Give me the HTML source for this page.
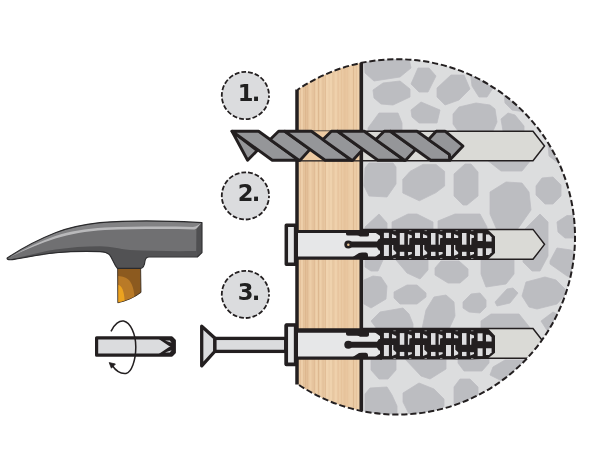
<!DOCTYPE html>
<html lang="en"><head><meta charset="utf-8"><title>Wall plug installation</title>
<style>html,body{margin:0;padding:0;background:#fff}body{width:600px;height:450px;overflow:hidden}svg{display:block}text{font-family:"DejaVu Sans","Liberation Sans",sans-serif;font-weight:bold}</style>
</head><body>
<svg width="600" height="450" viewBox="0 0 600 450">
<defs>
<clipPath id="circ"><circle cx="397.3" cy="236.9" r="177.7"/></clipPath>
<pattern id="wood" x="296" y="0" width="66" height="450" patternUnits="userSpaceOnUse">
<rect width="66" height="450" fill="#ebcba5"/>
<rect x="0.6" width="1.1" height="450" fill="#e3bf98"/>
<rect x="3.9" width="0.7" height="450" fill="#e0bb94"/>
<rect x="5.4" width="1.1" height="450" fill="#f0d2ad"/>
<rect x="7.3" width="0.9" height="450" fill="#e0bb94"/>
<rect x="9.0" width="1.4" height="450" fill="#ddb890"/>
<rect x="11.2" width="0.9" height="450" fill="#e0bb94"/>
<rect x="14.3" width="0.7" height="450" fill="#efd0aa"/>
<rect x="15.8" width="0.9" height="450" fill="#e6c29b"/>
<rect x="17.5" width="1.4" height="450" fill="#e0bb94"/>
<rect x="20.1" width="0.7" height="450" fill="#f0d2ad"/>
<rect x="22.0" width="1.1" height="450" fill="#ddb890"/>
<rect x="24.3" width="0.7" height="450" fill="#f0d2ad"/>
<rect x="26.6" width="0.9" height="450" fill="#e0bb94"/>
<rect x="28.7" width="1.1" height="450" fill="#e0bb94"/>
<rect x="30.6" width="0.7" height="450" fill="#f0d2ad"/>
<rect x="32.5" width="1.4" height="450" fill="#e6c29b"/>
<rect x="36.1" width="1.1" height="450" fill="#ddb890"/>
<rect x="39.4" width="1.1" height="450" fill="#f2d5b1"/>
<rect x="41.7" width="0.9" height="450" fill="#e6c29b"/>
<rect x="43.8" width="0.7" height="450" fill="#f0d2ad"/>
<rect x="46.1" width="1.4" height="450" fill="#f2d5b1"/>
<rect x="49.7" width="1.1" height="450" fill="#f0d2ad"/>
<rect x="51.6" width="0.7" height="450" fill="#f0d2ad"/>
<rect x="54.5" width="0.9" height="450" fill="#efd0aa"/>
<rect x="57.0" width="0.9" height="450" fill="#ddb890"/>
<rect x="60.1" width="0.7" height="450" fill="#e6c29b"/>
<rect x="61.6" width="1.1" height="450" fill="#f2d5b1"/>
<rect x="64.3" width="1.4" height="450" fill="#f0d2ad"/>
<rect x="44.5" width="8" height="450" fill="#dcb48a" opacity="0.35"/>
<rect x="30" width="7" height="450" fill="#f6dcba" opacity="0.4"/>
<rect x="8" width="5" height="450" fill="#dcb48a" opacity="0.25"/>
</pattern>
<linearGradient id="hm" x1="0" y1="0" x2="0" y2="1"><stop offset="0" stop-color="#8a8a8c"/><stop offset="0.25" stop-color="#757577"/><stop offset="1" stop-color="#6a6a6c"/></linearGradient>
</defs>
<g clip-path="url(#circ)">
<rect x="361" y="50" width="230" height="380" fill="#dcddde"/>
<g fill="#bcbdc1" stroke="#bcbdc1" stroke-width="0.8" stroke-linejoin="round">
<polygon points="364,58 409,58 411,68 400,77 374,81 365,73" />
<polygon points="373,90 383,83 400,81 410,89 410,97 393,105 381,104 374,98" />
<polygon points="418,68 429,68 436,76 428,92 419,92 411,84" />
<polygon points="437,88 451,75 464,75 470,89 459,100 445,105 437,97" />
<polygon points="411,110 421,102 440,110 437,123 419,123 412,117" />
<polygon points="368,128 379,113 398,113 402,123 402,131 368,131" />
<polygon points="453,114 459,107 476,103 490,105 495,109 497,122 493,131 458,131 453,124" />
<polygon points="470,70 493,88 487,97 479,97 472,86" />
<polygon points="501,119 508,113 515,115 524,126 524,131 503,131" />
<polygon points="504,92 525,112 512,110 505,103" />
<polygon points="365,168 369,163 393,163 396,167 396,184 387,197 369,196 364,186" />
<polygon points="402.8,179.4 410,171.4 423,164.4 436,164.4 444.6,171.4 444.6,186 436,192.6 419.3,200.8 402.8,193" />
<polygon points="454,174 465,164 471,164 478,172 478,196 467,205 463,205 454,196" />
<polygon points="365,227 379,214 387,223 387,230 365,230" />
<polygon points="392,222 408,214 417,214 433,222 433,230 392,230" />
<polygon points="438,221 455,214 480,214 487,227 487,230 438,230" />
<polygon points="487,160 531,160 522,171 501,171" />
<polygon points="490,192 506,182 522,183 529,192 531,210 517,230 497,230 490,214" />
<polygon points="536,186 542,178 553,177 561,185 561,196 553,204 545,204 536,195" />
<polygon points="525,229 540,214 548,222 548,256 540,271 532,271 523,262" />
<polygon points="557,222 567,215.5 580,216 580,238 565,238 558,232" />
<polygon points="550,261 557,248 571,250 580,256 580,280 567,276 550,264" />
<polygon points="548,145 553,150 562,166 549,156" />
<polygon points="365,260 383,260 378,271 371,271 365,267" />
<polygon points="396,260 428,260 428,270 420,279 407,273" />
<polygon points="435,268 441,261 459,261 468,269 468,276 460,283 448,283 435,275" />
<polygon points="364,280 373,276 381,277 387,286 386,299 371,308 364,304" />
<polygon points="394,292 407,285 417,285 426,293 426,297 417,304 400,304 394,298" />
<polygon points="422,329 426,310 434,297 446,295 454,302 455,316 449,329" />
<polygon points="371,321 380,312 403,308 409,314 413,324 413,329 377,329" />
<polygon points="481,260 514,260 514,274 506,284 486,287 481,274" />
<polygon points="522,296 526,282 545,277 556,280 565,289 565,295 557,304 537,309 529,307" />
<polygon points="495,302 507,289 513,288 518,293 510,303 497,306" />
<polygon points="463,302 471,294 480,293 486,300 486,307 480,313 469,312 463,308" />
<polygon points="481,321 491,314 519,314 531,329 481,329" />
<polygon points="541,321 553,312 570,320 550,335" />
<polygon points="371,359 396,359 396,370 388,379 379,379 371,370" />
<polygon points="405,359 446,359 446,369 430,379 421,376" />
<polygon points="365,394 370,388 387,387 392,395 397,406 397,416 365,416" />
<polygon points="403,393 419,383 434,389 444,399 444,406 435,416 410,416 403,402" />
<polygon points="454,387 460,379 470,379 478,387 478,410 454,410" />
<polygon points="458,359 489,359 489,363 482,371 464,371 458,363" />
<polygon points="490,375 493,367 505,360 540,360 520,390" />
</g>
<rect x="296.7" y="50" width="64.5" height="380" fill="url(#wood)"/>
<path d="M298,131.2 H533 L544.5,145.95 L533,160.7 H298" fill="#dadad6" stroke="#231f20" stroke-width="1.5" stroke-linejoin="miter"/>
<path d="M361,229.4 H533 L544.5,244.35000000000002 L533,259.3 H361" fill="#dadad6" stroke="#231f20" stroke-width="1.5" stroke-linejoin="miter"/>
<path d="M361,328.5 H533 L544.5,343.35 L533,358.2 H361" fill="#dadad6" stroke="#231f20" stroke-width="1.5" stroke-linejoin="miter"/>
</g>
<rect x="298" y="131.2" width="63" height="29" fill="#eccaa2"/>
<line x1="297" y1="89.4" x2="297" y2="384.4" stroke="#231f20" stroke-width="3.5"/>
<line x1="361.3" y1="62.8" x2="361.3" y2="411" stroke="#231f20" stroke-width="3.6"/>
<path d="M297.38,89.96 A177.7,177.7 0 1 1 297.38,383.84" fill="none" stroke="#231f20" stroke-width="2.0" stroke-dasharray="6.2 2.8" stroke-dashoffset="3"/>
<g id="plug2">
<rect x="286.3" y="225.3" width="9.3" height="39" fill="#e6e7e8" stroke="#231f20" stroke-width="3.5" stroke-linejoin="round"/>
<rect x="298" y="231.3" width="84" height="26.8" fill="#e6e7e8"/>
<path d="M380,229.4 H487.6 L495,236.4 V253 L487.6,259.8 H380 Z" fill="#231f20"/>
<rect x="393.4" y="230.3" width="2.4" height="0.8" fill="#9a9a9c"/>
<rect x="393.4" y="258.1" width="2.4" height="0.8" fill="#9a9a9c"/>
<rect x="409.0" y="230.3" width="2.4" height="0.8" fill="#9a9a9c"/>
<rect x="409.0" y="258.1" width="2.4" height="0.8" fill="#9a9a9c"/>
<rect x="424.6" y="230.3" width="2.4" height="0.8" fill="#9a9a9c"/>
<rect x="424.6" y="258.1" width="2.4" height="0.8" fill="#9a9a9c"/>
<rect x="440.0" y="230.3" width="2.4" height="0.8" fill="#9a9a9c"/>
<rect x="440.0" y="258.1" width="2.4" height="0.8" fill="#9a9a9c"/>
<rect x="455.6" y="230.3" width="2.4" height="0.8" fill="#9a9a9c"/>
<rect x="455.6" y="258.1" width="2.4" height="0.8" fill="#9a9a9c"/>
<rect x="471.0" y="230.3" width="2.4" height="0.8" fill="#9a9a9c"/>
<rect x="471.0" y="258.1" width="2.4" height="0.8" fill="#9a9a9c"/>
<line x1="296" y1="231.4" x2="382" y2="231.4" stroke="#231f20" stroke-width="3.0"/>
<line x1="296" y1="258.1" x2="382" y2="258.1" stroke="#231f20" stroke-width="3.2"/>
<path d="M346,232 H369 V235 Q369,236.6 367,236.6 H360 Q359,235.6 357,235.6 H348 Q346,235.6 346,234 Z" fill="#231f20"/>
<path d="M352,257.5 L359,253 Q361,252.4 363,252.6 H366 Q368,253 368,255 V258 Z" fill="#231f20"/>
<path d="M374.4,232 L381,236.6 V232 Z" fill="#231f20"/>
<path d="M374.4,257.4 L381,252.8 V257.4 Z" fill="#231f20"/>
<path d="M348,241.6 H377 L379,238.8 H382 V250.4 H379 L377,247.6 H348 Z" fill="#231f20"/>
<circle cx="348.3" cy="244.6" r="4" fill="#231f20"/>
<circle cx="348.3" cy="244.7" r="1.25" fill="#e9c394"/>
<polygon points="383.9,232.8 388.9,232.8 388.9,238.1 383.9,238.1" fill="#dddddf"/>
<polygon points="383.9,244.9 388.9,244.9 388.9,256.0 383.9,256.0" fill="#dddddf"/>
<polygon points="392.0,233.9 396.2,235.8 396.2,238.1 392.0,238.1" fill="#dddddf"/>
<polygon points="392.0,244.9 393.3,244.9 393.3,249.6 396.2,252.2 396.2,254.1 392.0,255.8" fill="#dddddf"/>
<polygon points="399.8,233.0 404.3,233.0 404.3,244.7 399.8,244.7" fill="#dddddf"/>
<polygon points="399.8,251.8 404.3,251.8 404.3,256.0 399.8,256.0" fill="#dddddf"/>
<polygon points="407.9,233.9 411.9,235.4 411.9,237.8 409.4,238.3 409.2,244.7 407.9,244.7" fill="#dddddf"/>
<polygon points="407.9,252.1 411.9,252.1 411.9,254.0 408.2,255.5" fill="#dddddf"/>
<polygon points="415.0,232.8 420.0,232.8 420.0,238.1 415.0,238.1" fill="#dddddf"/>
<polygon points="415.0,244.9 420.0,244.9 420.0,256.0 415.0,256.0" fill="#dddddf"/>
<polygon points="423.0,233.9 427.2,235.8 427.2,238.1 423.0,238.1" fill="#dddddf"/>
<polygon points="423.0,244.9 424.3,244.9 424.3,249.6 427.2,252.2 427.2,254.1 423.0,255.8" fill="#dddddf"/>
<polygon points="431.0,233.0 435.5,233.0 435.5,244.7 431.0,244.7" fill="#dddddf"/>
<polygon points="431.0,251.8 435.5,251.8 435.5,256.0 431.0,256.0" fill="#dddddf"/>
<polygon points="438.6,233.9 442.6,235.4 442.6,237.8 440.1,238.3 439.9,244.7 438.6,244.7" fill="#dddddf"/>
<polygon points="438.6,252.1 442.6,252.1 442.6,254.0 438.9,255.5" fill="#dddddf"/>
<polygon points="446.0,232.8 451.0,232.8 451.0,238.1 446.0,238.1" fill="#dddddf"/>
<polygon points="446.0,244.9 451.0,244.9 451.0,256.0 446.0,256.0" fill="#dddddf"/>
<polygon points="454.0,233.9 458.2,235.8 458.2,238.1 454.0,238.1" fill="#dddddf"/>
<polygon points="454.0,244.9 455.3,244.9 455.3,249.6 458.2,252.2 458.2,254.1 454.0,255.8" fill="#dddddf"/>
<polygon points="462.0,233.0 466.5,233.0 466.5,244.7 462.0,244.7" fill="#dddddf"/>
<polygon points="462.0,251.8 466.5,251.8 466.5,256.0 462.0,256.0" fill="#dddddf"/>
<polygon points="470.0,233.9 474.0,235.4 474.0,237.8 471.5,238.3 471.3,244.7 470.0,244.7" fill="#dddddf"/>
<polygon points="470.0,252.1 474.0,252.1 474.0,254.0 470.3,255.5" fill="#dddddf"/>
<polygon points="477.6,233.2 482.6,233.2 482.6,241.0 477.6,241.0" fill="#dddddf"/>
<polygon points="477.6,248.2 482.6,248.2 482.6,256.0 477.6,256.0" fill="#dddddf"/>
<polygon points="486.0,234.6 489.0,234.6 491.6,237.2 491.6,241.4 486.0,241.4" fill="#dddddf"/>
<polygon points="486.0,248.2 491.6,248.2 491.6,252.2 489.0,255.0 486.0,255.0" fill="#dddddf"/>
</g>
<g id="plug3">
<rect x="286.3" y="325.4" width="9.3" height="39" fill="#e6e7e8" stroke="#231f20" stroke-width="3.5" stroke-linejoin="round"/>
<rect x="298" y="331.4" width="84" height="26.8" fill="#e6e7e8"/>
<path d="M380,328.0 H487.6 L495,335.7 V352.7 L487.6,358.79999999999995 L470,359.5 H380 Z" fill="#231f20"/>
<rect x="393.4" y="330.4" width="2.4" height="0.8" fill="#9a9a9c"/>
<rect x="393.4" y="358.20000000000005" width="2.4" height="0.8" fill="#9a9a9c"/>
<rect x="409.0" y="330.4" width="2.4" height="0.8" fill="#9a9a9c"/>
<rect x="409.0" y="358.20000000000005" width="2.4" height="0.8" fill="#9a9a9c"/>
<rect x="424.6" y="330.4" width="2.4" height="0.8" fill="#9a9a9c"/>
<rect x="424.6" y="358.20000000000005" width="2.4" height="0.8" fill="#9a9a9c"/>
<rect x="440.0" y="330.4" width="2.4" height="0.8" fill="#9a9a9c"/>
<rect x="440.0" y="358.20000000000005" width="2.4" height="0.8" fill="#9a9a9c"/>
<rect x="455.6" y="330.4" width="2.4" height="0.8" fill="#9a9a9c"/>
<rect x="455.6" y="358.20000000000005" width="2.4" height="0.8" fill="#9a9a9c"/>
<rect x="471.0" y="330.4" width="2.4" height="0.8" fill="#9a9a9c"/>
<rect x="471.0" y="358.20000000000005" width="2.4" height="0.8" fill="#9a9a9c"/>
<line x1="296" y1="330.5" x2="382" y2="330.5" stroke="#231f20" stroke-width="4.4"/>
<line x1="296" y1="358.20000000000005" x2="382" y2="358.20000000000005" stroke="#231f20" stroke-width="3.2"/>
<path d="M346,332.1 H369 V335.1 Q369,336.7 367,336.7 H360 Q359,335.7 357,335.7 H348 Q346,335.7 346,334.1 Z" fill="#231f20"/>
<path d="M352,357.6 L359,353.1 Q361,352.5 363,352.7 H366 Q368,353.1 368,355.1 V358.1 Z" fill="#231f20"/>
<path d="M374.4,332.1 L381,336.7 V332.1 Z" fill="#231f20"/>
<path d="M374.4,357.5 L381,352.9 V357.5 Z" fill="#231f20"/>
<path d="M348,341.7 H377 L379,338.9 H382 V350.5 H379 L377,347.7 H348 Z" fill="#231f20"/>
<circle cx="348.3" cy="344.7" r="4" fill="#231f20"/>
<polygon points="383.9,332.9 388.9,332.9 388.9,338.2 383.9,338.2" fill="#dddddf"/>
<polygon points="383.9,345.0 388.9,345.0 388.9,356.1 383.9,356.1" fill="#dddddf"/>
<polygon points="392.0,334.0 396.2,335.9 396.2,338.2 392.0,338.2" fill="#dddddf"/>
<polygon points="392.0,345.0 393.3,345.0 393.3,349.7 396.2,352.3 396.2,354.2 392.0,355.9" fill="#dddddf"/>
<polygon points="399.8,333.1 404.3,333.1 404.3,344.8 399.8,344.8" fill="#dddddf"/>
<polygon points="399.8,351.9 404.3,351.9 404.3,356.1 399.8,356.1" fill="#dddddf"/>
<polygon points="407.9,334.0 411.9,335.5 411.9,337.9 409.4,338.4 409.2,344.8 407.9,344.8" fill="#dddddf"/>
<polygon points="407.9,352.2 411.9,352.2 411.9,354.1 408.2,355.6" fill="#dddddf"/>
<polygon points="415.0,332.9 420.0,332.9 420.0,338.2 415.0,338.2" fill="#dddddf"/>
<polygon points="415.0,345.0 420.0,345.0 420.0,356.1 415.0,356.1" fill="#dddddf"/>
<polygon points="423.0,334.0 427.2,335.9 427.2,338.2 423.0,338.2" fill="#dddddf"/>
<polygon points="423.0,345.0 424.3,345.0 424.3,349.7 427.2,352.3 427.2,354.2 423.0,355.9" fill="#dddddf"/>
<polygon points="431.0,333.1 435.5,333.1 435.5,344.8 431.0,344.8" fill="#dddddf"/>
<polygon points="431.0,351.9 435.5,351.9 435.5,356.1 431.0,356.1" fill="#dddddf"/>
<polygon points="438.6,334.0 442.6,335.5 442.6,337.9 440.1,338.4 439.9,344.8 438.6,344.8" fill="#dddddf"/>
<polygon points="438.6,352.2 442.6,352.2 442.6,354.1 438.9,355.6" fill="#dddddf"/>
<polygon points="446.0,332.9 451.0,332.9 451.0,338.2 446.0,338.2" fill="#dddddf"/>
<polygon points="446.0,345.0 451.0,345.0 451.0,356.1 446.0,356.1" fill="#dddddf"/>
<polygon points="454.0,334.0 458.2,335.9 458.2,338.2 454.0,338.2" fill="#dddddf"/>
<polygon points="454.0,345.0 455.3,345.0 455.3,349.7 458.2,352.3 458.2,354.2 454.0,355.9" fill="#dddddf"/>
<polygon points="462.0,333.1 466.5,333.1 466.5,344.8 462.0,344.8" fill="#dddddf"/>
<polygon points="462.0,351.9 466.5,351.9 466.5,356.1 462.0,356.1" fill="#dddddf"/>
<polygon points="470.0,334.0 474.0,335.5 474.0,337.9 471.5,338.4 471.3,344.8 470.0,344.8" fill="#dddddf"/>
<polygon points="470.0,352.2 474.0,352.2 474.0,354.1 470.3,355.6" fill="#dddddf"/>
<polygon points="477.6,333.3 482.6,333.3 482.6,341.1 477.6,341.1" fill="#dddddf"/>
<polygon points="477.6,348.3 482.6,348.3 482.6,356.1 477.6,356.1" fill="#dddddf"/>
<polygon points="486.0,334.7 489.0,334.7 491.6,337.3 491.6,341.5 486.0,341.5" fill="#dddddf"/>
<polygon points="486.0,348.3 491.6,348.3 491.6,352.3 489.0,355.1 486.0,355.1" fill="#dddddf"/>
</g>
<rect x="214.7" y="338.4" width="71" height="13.0" fill="#dbdcde" stroke="#231f20" stroke-width="3.3"/>
<polygon points="201.7,326.2 214.7,338 214.7,351.5 201.7,365.8" fill="#dbdcde" stroke="#231f20" stroke-width="3.3" stroke-linejoin="round"/>
<rect x="286.3" y="325.1" width="9.3" height="39.2" fill="#e6e7e8" stroke="#231f20" stroke-width="3.5" stroke-linejoin="round"/>
<g id="drill">
<polygon points="232,131.2 247.6,160.3 257.2,150.6" fill="#959699" stroke="#231f20" stroke-width="2.9" stroke-linejoin="round"/>
<polygon points="232,131.2 258.6,131.2 298.9,160.3 272.3,160.3" fill="#959699" stroke="#231f20" stroke-width="2.9" stroke-linejoin="round"/>
<polygon points="270.2,139.576 278.6,131.2 284.8,131.2 310,149.397 300.1,160.3 298.9,160.3" fill="#959699" stroke="#231f20" stroke-width="2.9" stroke-linejoin="round"/>
<polygon points="284.8,131.2 311.4,131.2 351.7,160.3 325.1,160.3" fill="#959699" stroke="#231f20" stroke-width="2.9" stroke-linejoin="round"/>
<polygon points="323,139.576 331.4,131.2 337.6,131.2 362.8,149.397 352.9,160.3 351.7,160.3" fill="#959699" stroke="#231f20" stroke-width="2.9" stroke-linejoin="round"/>
<polygon points="337.6,131.2 364.2,131.2 404.5,160.3 377.9,160.3" fill="#959699" stroke="#231f20" stroke-width="2.9" stroke-linejoin="round"/>
<polygon points="375.8,139.576 384.2,131.2 390.4,131.2 415.6,149.397 405.7,160.3 404.5,160.3" fill="#959699" stroke="#231f20" stroke-width="2.9" stroke-linejoin="round"/>
<polygon points="390.4,131.2 417,131.2 449.4,154.4 450,160.3 430.7,160.3" fill="#959699" stroke="#231f20" stroke-width="2.9" stroke-linejoin="round"/>
<polygon points="428.6,139.576 436.2,131.2 445,131.2 463,146 450,159.8 449.4,154.4" fill="#959699" stroke="#231f20" stroke-width="2.9" stroke-linejoin="round"/>
</g>
<circle cx="245.4" cy="95.5" r="23.6" fill="#dbdcde" stroke="#231f20" stroke-width="1.8" stroke-dasharray="4.8 2" stroke-dashoffset="2.4"/>
<text x="237.8" y="100.6" font-size="22.6" fill="#231f20" letter-spacing="-1.7" style="filter:grayscale(1)">1.</text>
<circle cx="245.4" cy="195.9" r="23.6" fill="#dbdcde" stroke="#231f20" stroke-width="1.8" stroke-dasharray="4.8 2" stroke-dashoffset="2.4"/>
<text x="237.8" y="201.0" font-size="22.6" fill="#231f20" letter-spacing="-1.7" style="filter:grayscale(1)">2.</text>
<circle cx="245.4" cy="294.4" r="23.6" fill="#dbdcde" stroke="#231f20" stroke-width="1.8" stroke-dasharray="4.8 2" stroke-dashoffset="2.4"/>
<text x="237.8" y="299.5" font-size="22.6" fill="#231f20" letter-spacing="-1.7" style="filter:grayscale(1)">3.</text>
<path d="M96.6,337.8 H171.6 L174.3,340.6 V352.4 L171.6,355.2 H96.6 Z" fill="#dbdcde" stroke="#231f20" stroke-width="3.2" stroke-linejoin="round"/>
<path d="M158.4,337.8 H171.6 L174.3,340.6 V352.4 L171.6,355.2 H158.4 L171.4,346.5 Z" fill="#231f20" stroke="#231f20" stroke-width="1.6" stroke-linejoin="round"/>
<polygon points="165,340.4 169.8,340.4 171.6,342.8" fill="#dbdcde"/>
<polygon points="165,352.6 169.8,352.6 171.6,350.2" fill="#dbdcde"/>
<path d="M111,331.4 C114.4,323.6 119.6,320.4 123.6,321 C130.4,322.4 135.8,334 135.8,347 C135.8,360 131.6,372.4 126,373.4 C121,374 115.6,370.4 112,365.2" fill="none" stroke="#231f20" stroke-width="1.5"/>
<polygon points="109.2,362.6 115.4,364 111.4,368.2" fill="#231f20" stroke="#231f20" stroke-width="0.8" stroke-linejoin="round"/>
<g id="hammer">
<path d="M117.6,267 H140.6 L141,292.4 C134.6,297.4 126,301 117.8,302.8 Z" fill="#8c5a1f" stroke="#2b2118" stroke-width="0.8" stroke-linejoin="round"/>
<path d="M118.4,276 C127,276.6 133,280 134.4,296.4 C129,299.2 123,301.2 118.4,302.2 Z" fill="#b97a27"/>
<path d="M118.4,285 C122,286 124,291 124.6,300.4 C122.4,301.2 120.4,301.8 118.4,302.2 Z" fill="#eca31f"/>
<path d="M7.2,258 C22,248 38,239.6 55.4,232.7 C68,227.8 82,224.6 100,222.6 C125,220.6 165,220.6 197.2,222.4 L202,222.6 L202,252.6 L197.4,257 L149,257 C146.4,257 145.4,258.6 145,261 C144.6,265 143.6,268.2 140.6,268.4 L117.4,268.4 C113.6,264 112.4,258 109.4,254.6 C107,252.4 104,251.8 100,251.6 C85,251 70,251.4 55.4,252.8 C40,254.4 25,257.4 14,259.4 C10,260.2 6.4,259.6 7.2,258 Z" fill="#707072"/>
<path d="M10,257.2 C24,247.6 39,239.6 55.4,233.2 C68,228.4 82,225.2 100,223.2 C125,221.2 165,221.2 201.4,223 L196.6,228 C165,227.6 125,227.6 105,229 C86,230.6 70,233.4 55.4,238 C40,242.8 26,249.6 10,257.2 Z" fill="#828284"/>
<path d="M10,259.4 C25,256.4 40,252 55.4,249.6 C70,247.4 85,246.2 100,246.2 C112,246.4 118,248.6 130,250 C150,251 175,251.4 196.4,251 L197.2,256.6 L149,256.6 C146,256.6 145,258.6 144.6,261 C144.2,265 143.4,267.8 140.4,268 L117.6,268 C113.8,264 112.6,258 109.6,254.8 C107,252.8 104,252.2 100,252 C85,251.4 70,251.8 55.4,253.2 C40,254.8 25,257.8 14,259.6 Z" fill="#525254"/>
<path d="M196.4,228.4 L201.8,222.8 L201.8,252.4 L197.2,256.8 L196.2,251.2 Z" fill="#4f4f51"/>
<path d="M11,256.6 C26,248 40,241.6 55.4,236 C70,231 85,228.6 105,227.4 C135,226.4 170,226.4 193,227 C196.4,226.6 199,224.8 201.2,223 L196.6,228.6 L194.4,229.4 C170,228.8 135,228.8 105,230 C86,231.4 70,234 55.4,238.6 C40,243.6 26,249.4 11,256.6 Z" fill="#b9b9bb"/>
<path d="M7.2,258 C22,248 38,239.6 55.4,232.7 C68,227.8 82,224.6 100,222.6 C125,220.6 165,220.6 197.2,222.4 L202,222.6 L202,252.6 L197.4,257 L149,257 C146.4,257 145.4,258.6 145,261 C144.6,265 143.6,268.2 140.6,268.4 L117.4,268.4 C113.6,264 112.4,258 109.4,254.6 C107,252.4 104,251.8 100,251.6 C85,251 70,251.4 55.4,252.8 C40,254.4 25,257.4 14,259.4 C10,260.2 6.4,259.6 7.2,258 Z" fill="none" stroke="#2a2a2c" stroke-width="1.1" stroke-linejoin="round"/>
</g>
</svg>
</body></html>
